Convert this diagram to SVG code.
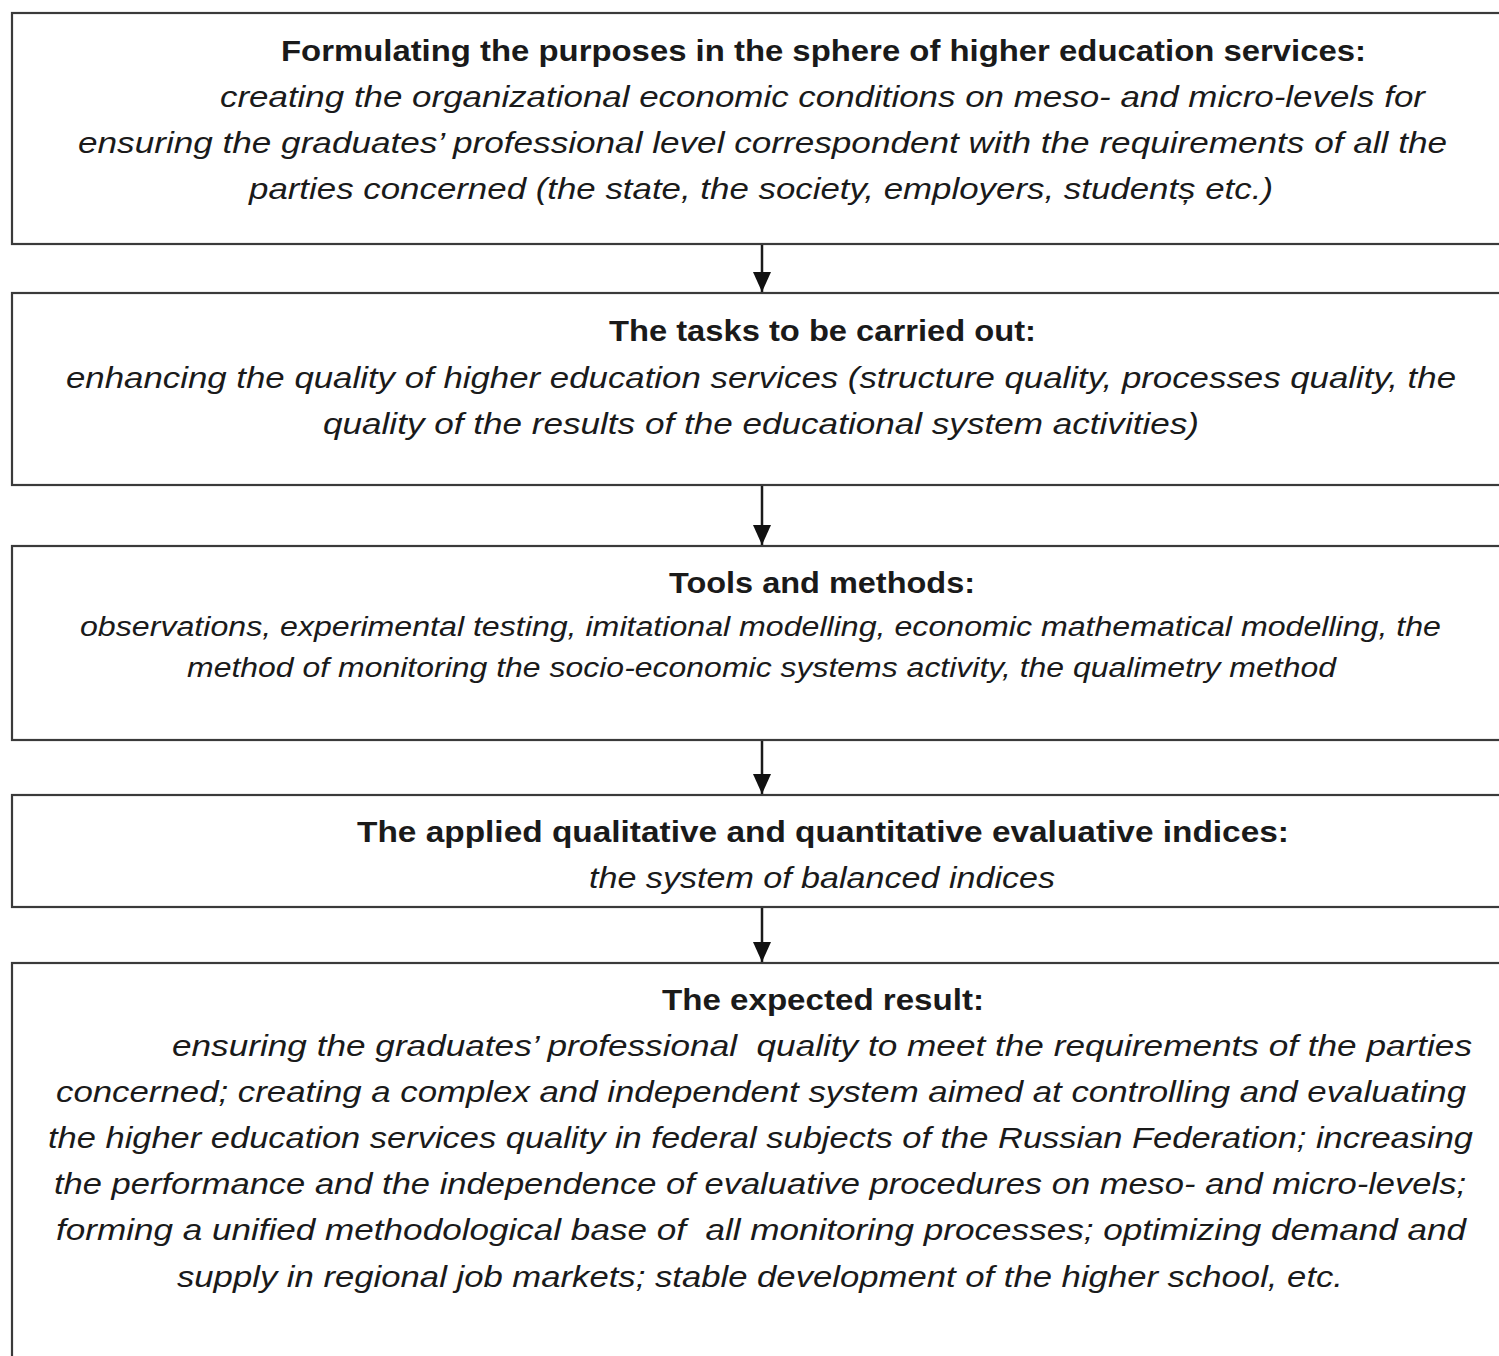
<svg xmlns="http://www.w3.org/2000/svg" width="1499" height="1356" viewBox="0 0 1499 1356">
<style>
.box{fill:#fff;stroke:#3a3a3a;stroke-width:2.2}
.t{font-family:"Liberation Sans",Arial,sans-serif;fill:#1a1a1a;font-size:30px}
.b{font-weight:bold}
.i{font-style:italic}
.s{font-size:27px}
.conn{stroke:#1a1a1a;stroke-width:2.5;fill:none;marker-end:url(#ah)}
</style>
<defs>
<marker id="ah" markerWidth="20" markerHeight="18" refX="20" refY="9" orient="auto" markerUnits="userSpaceOnUse" viewBox="0 0 20 18">
<path d="M0,0 L20,9 L0,18 Z" fill="#111"/>
</marker>
</defs>
<rect width="1499" height="1356" fill="#fff"/>
<g id="connectors">
<line class="conn" x1="762" y1="244" x2="762" y2="292"/>
<line class="conn" x1="762" y1="485" x2="762" y2="545"/>
<line class="conn" x1="762" y1="740" x2="762" y2="794"/>
<line class="conn" x1="762" y1="907" x2="762" y2="962"/>
</g>
<g id="node1">
<rect class="box" x="12" y="13" width="1500" height="231"/>
<text class="t b" x="281" y="61" textLength="1085" lengthAdjust="spacingAndGlyphs">Formulating the purposes in the sphere of higher education services:</text>
<text class="t i" x="220" y="107" textLength="1205" lengthAdjust="spacingAndGlyphs">creating the organizational economic conditions on meso- and micro-levels for</text>
<text class="t i" x="78" y="153" textLength="1369" lengthAdjust="spacingAndGlyphs">ensuring the graduates’ professional level correspondent with the requirements of all the</text>
<text class="t i" x="249" y="199" textLength="1024" lengthAdjust="spacingAndGlyphs">parties concerned (the state, the society, employers, studentș etc.)</text>
</g>
<g id="node2">
<rect class="box" x="12" y="293" width="1500" height="192"/>
<text class="t b" x="609" y="341" textLength="427" lengthAdjust="spacingAndGlyphs">The tasks to be carried out:</text>
<text class="t i" x="66" y="388" textLength="1390" lengthAdjust="spacingAndGlyphs">enhancing the quality of higher education services (structure quality, processes quality, the</text>
<text class="t i" x="323" y="434" textLength="876" lengthAdjust="spacingAndGlyphs">quality of the results of the educational system activities)</text>
</g>
<g id="node3">
<rect class="box" x="12" y="546" width="1500" height="194"/>
<text class="t b" x="669" y="593" textLength="306" lengthAdjust="spacingAndGlyphs">Tools and methods:</text>
<text class="t i s" x="80" y="636" textLength="1361" lengthAdjust="spacingAndGlyphs">observations, experimental testing, imitational modelling, economic mathematical modelling, the</text>
<text class="t i s" x="187" y="677" textLength="1149" lengthAdjust="spacingAndGlyphs">method of monitoring the socio-economic systems activity, the qualimetry method</text>
</g>
<g id="node4">
<rect class="box" x="12" y="795" width="1500" height="112"/>
<text class="t b" x="357" y="842" textLength="932" lengthAdjust="spacingAndGlyphs">The applied qualitative and quantitative evaluative indices:</text>
<text class="t i" x="589" y="888" textLength="466" lengthAdjust="spacingAndGlyphs">the system of balanced indices</text>
</g>
<g id="node5">
<rect class="box" x="12" y="963" width="1500" height="420"/>
<text class="t b" x="662" y="1010" textLength="322" lengthAdjust="spacingAndGlyphs">The expected result:</text>
<text class="t i" x="172" y="1056" textLength="1300" lengthAdjust="spacingAndGlyphs" xml:space="preserve">ensuring the graduates’ professional  quality to meet the requirements of the parties</text>
<text class="t i" x="56" y="1102" textLength="1410" lengthAdjust="spacingAndGlyphs">concerned; creating a complex and independent system aimed at controlling and evaluating</text>
<text class="t i" x="48" y="1148" textLength="1425" lengthAdjust="spacingAndGlyphs">the higher education services quality in federal subjects of the Russian Federation; increasing</text>
<text class="t i" x="54" y="1194" textLength="1412" lengthAdjust="spacingAndGlyphs">the performance and the independence of evaluative procedures on meso- and micro-levels;</text>
<text class="t i" x="56" y="1240" textLength="1410" lengthAdjust="spacingAndGlyphs" xml:space="preserve">forming a unified methodological base of  all monitoring processes; optimizing demand and</text>
<text class="t i" x="177" y="1287" textLength="1166" lengthAdjust="spacingAndGlyphs">supply in regional job markets; stable development of the higher school, etc.</text>
</g>
</svg>
